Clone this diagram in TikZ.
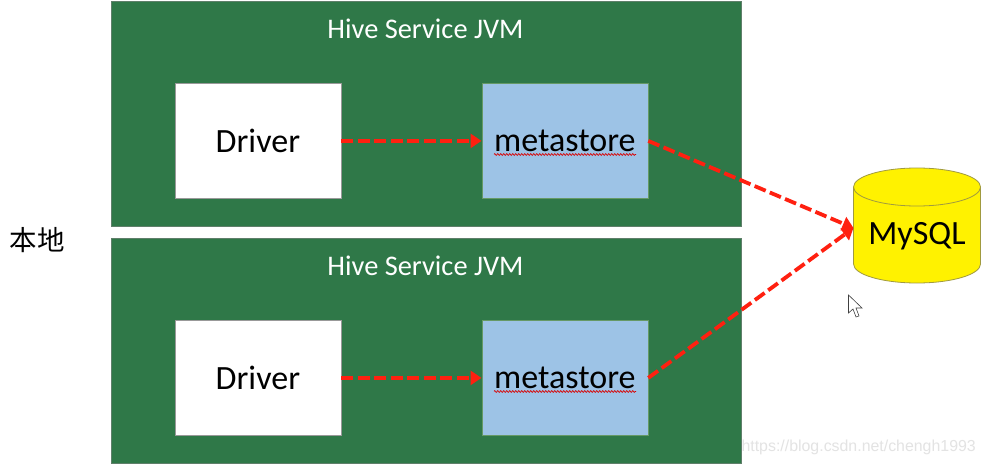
\documentclass[tikz,border=0pt]{standalone}
\usepackage{fontspec}
\setmainfont{Carlito}
\newfontfamily\cjkf{Noto Sans CJK SC}
\newfontfamily\wmf{Liberation Sans}
\usetikzlibrary{arrows.meta,decorations.pathmorphing}
\definecolor{jvmgreen}{HTML}{2F7848}
\definecolor{jvmedge}{HTML}{5F7F6A}
\definecolor{storeblue}{HTML}{9DC3E6}
\definecolor{dbyellow}{HTML}{FFF200}
\definecolor{dbedge}{HTML}{A09A40}
\definecolor{flowred}{HTML}{FF2010}
\tikzset{
  x=1pt,y=-1pt,
  jvm/.style={draw=jvmedge,line width=1pt,fill=jvmgreen,minimum width=630pt,minimum height=225pt,inner sep=0pt,anchor=north west},
  jvmtitle/.style={text=white,font=\fontsize{28.4}{32}\selectfont,anchor=center,inner sep=0pt},
  driverbox/.style={draw=gray!80,line width=.8pt,fill=white,minimum width=166pt,minimum height=115pt,inner sep=0pt,anchor=north west,font=\fontsize{34}{38}\selectfont},
  storebox/.style={draw=gray!80!green,line width=.8pt,fill=storeblue,minimum width=166pt,minimum height=115pt,inner sep=0pt,anchor=north west,font=\fontsize{34}{38}\selectfont},
  flow/.style={draw=flowred,line width=3.8pt,dash pattern=on 12pt off 4.5pt,-{Triangle[length=11pt,width=14pt,fill=flowred]}},
  squiggle/.style={draw=red!85!black,line width=.7pt,decorate,decoration={zigzag,amplitude=.8pt,segment length=3pt}},
}
\begin{document}
\begin{tikzpicture}
\useasboundingbox (0,0) rectangle (985,465);
\fill[white] (0,0) rectangle (985,465);
\node[jvm] (top) at (110.5,1) {};
\node[jvm] (bot) at (110.5,238) {};
\node[jvmtitle] (ttop) at (425.5,29) {Hive Service JVM};
\node[jvmtitle] (tbot) at (425.5,266) {Hive Service JVM};
\node[driverbox] (d1) at (174.5,83) {Driver};
\node[driverbox] (d2) at (174.5,320) {Driver};
\node[storebox] (m1) at (481.5,83) {metastore};
\node[storebox] (m2) at (481.5,320) {metastore};
\draw[squiggle] (494,154.5) -- (636,154.5);
\draw[squiggle] (494,391.5) -- (636,391.5);
% MySQL cylinder
\path[fill=dbyellow,draw=dbedge,line width=.8pt] (853.5,187) -- (853.5,264)
  arc[start angle=180,end angle=360,x radius=63.5pt,y radius=19pt] -- (980.5,187)
  arc[start angle=0,end angle=180,x radius=63.5pt,y radius=19pt] -- cycle;
\draw[dbedge,line width=.8pt] (853.5,187) arc[start angle=180,end angle=360,x radius=63.5pt,y radius=19pt];
\node[font=\fontsize{34}{38}\selectfont,inner sep=0pt] (db) at (917,236) {MySQL};
\coordinate (dbtip) at (853.5,228);
\draw[flow] (d1.east) -- (m1.west);
\draw[flow] (d2.east) -- (m2.west);
\draw[flow] (m1.east) -- (dbtip);
\draw[flow] (m2.east) -- (dbtip);
\node[font=\cjkf\fontsize{27.5}{30}\selectfont,inner sep=0pt] (loc) at (37,240) {本地};
% cursor
\draw[fill=white,draw=black!75,line width=.6pt] (848.5,295) -- (848.5,313) -- (853,309) -- (856,317) -- (859,316) -- (856,308) -- (862,308) -- cycle;
\node[font=\wmf\fontsize{15.9}{18}\selectfont,text=gray!22,anchor=east,inner sep=0pt] (wm) at (976,447) {https://blog.csdn.net/chengh1993};
\end{tikzpicture}
\end{document}
